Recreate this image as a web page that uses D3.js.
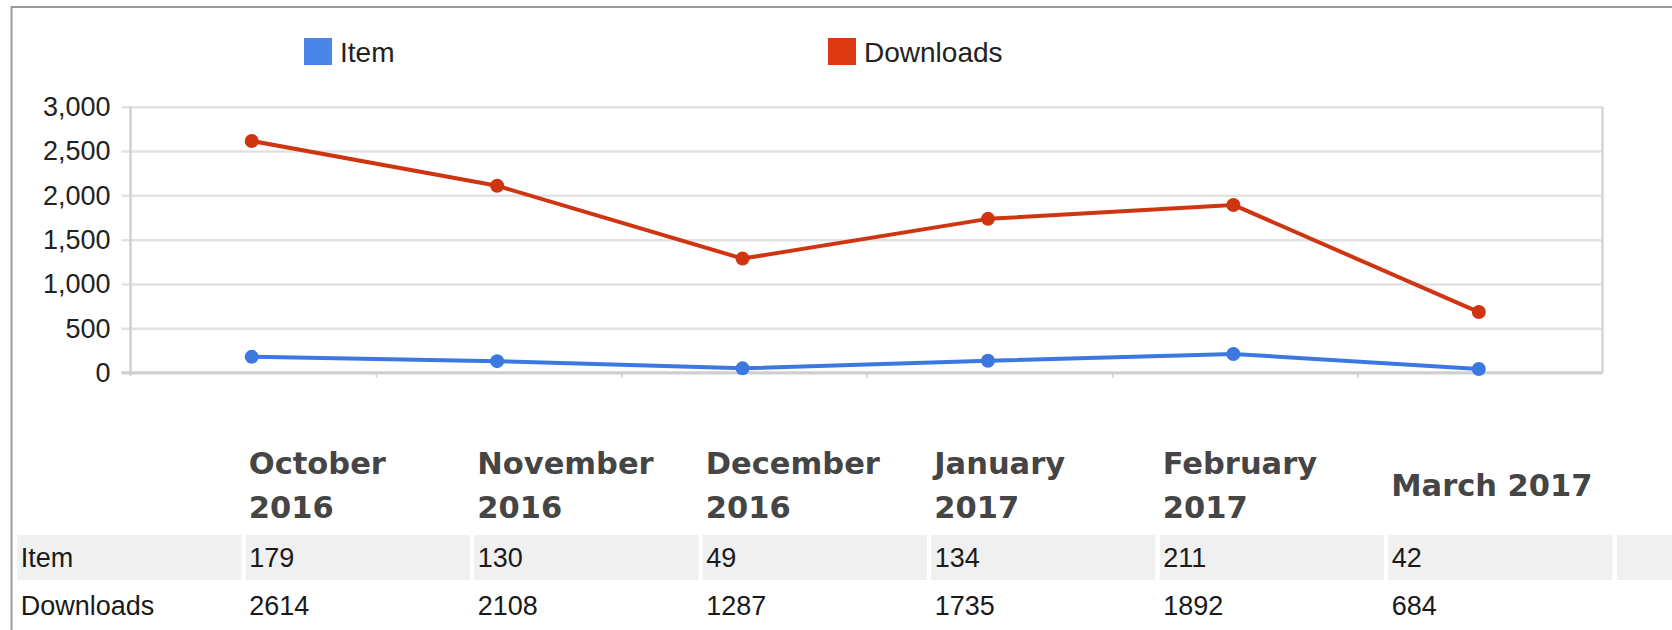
<!DOCTYPE html>
<html>
<head>
<meta charset="utf-8">
<script src="https://cdn.jsdelivr.net/npm/d3@7"></script>
<style>
  body { margin: 0; background: #fff; }
  svg { display: block; }
</style>
</head>
<body>
<div id="chart"></div>
<script>
const months = ["October 2016", "November 2016", "December 2016", "January 2017", "February 2017", "March 2017"];
const itemValues = [179, 130, 49, 134, 211, 42];
const downloadValues = [2614, 2108, 1287, 1735, 1892, 684];
const seriesNames = ["Item", "Downloads"];
const yTicks = [0, 500, 1000, 1500, 2000, 2500, 3000];

const series = [
    {name: seriesNames[0], values: itemValues, line: "#3b78e0", swatch: "#4a86e8"},
    {name: seriesNames[1], values: downloadValues, line: "#cf3510", swatch: "#dc3912"}
];

const W = 1672, H = 630;
const plot = {left: 130.5, right: 1602.5, top: 106.7, bottom: 372.7};

const svg = d3.select("#chart")
    .append("svg")
    .attr("width", W)
    .attr("height", H);

// Outer frame (only top and left edges are visible)
svg.append("rect")
    .attr("x", 11.5)
    .attr("y", 7)
    .attr("width", W + 20)
    .attr("height", H + 20)
    .attr("fill", "none")
    .attr("stroke", "#9a9a9a")
    .attr("stroke-width", 2);

// Scales
const x = d3.scalePoint()
    .domain(months)
    .range([plot.left - 1.5, plot.right - 1])
    .padding(0.5);

const y = d3.scaleLinear()
    .domain([0, 3000])
    .range([plot.bottom, plot.top]);

// Horizontal gridlines + left tick stubs
const yAxis = svg.append("g")
    .attr("transform", `translate(${plot.left},0)`)
    .call(d3.axisLeft(y)
        .tickValues(yTicks)
        .tickFormat(d3.format(","))
        .tickSize(-(plot.right - plot.left))
        .tickPadding(20));

yAxis.select(".domain").remove();
yAxis.selectAll(".tick line")
    .attr("x1", -9)
    .attr("stroke", "#e2e2e2")
    .attr("stroke-width", 2.5);
yAxis.selectAll(".tick text")
    .attr("fill", "#222")
    .style("font-family", "'Liberation Sans', Arial, sans-serif")
    .style("font-size", "27px");

// Plot frame: left/right verticals and baseline
svg.append("line")
    .attr("x1", plot.left).attr("x2", plot.left)
    .attr("y1", plot.top).attr("y2", plot.bottom + 3)
    .attr("stroke", "#d0d0d0").attr("stroke-width", 2.5);
svg.append("line")
    .attr("x1", plot.right).attr("x2", plot.right)
    .attr("y1", plot.top).attr("y2", plot.bottom)
    .attr("stroke", "#d6d6d6").attr("stroke-width", 2.5);
svg.append("line")
    .attr("x1", plot.left - 9).attr("x2", plot.right)
    .attr("y1", plot.bottom).attr("y2", plot.bottom)
    .attr("stroke", "#cfcfcf").attr("stroke-width", 3);

// Small ticks between categories
const step = x.step();
svg.append("g")
    .selectAll("line")
    .data(months.slice(0, -1))
    .enter().append("line")
    .attr("x1", d => x(d) + step / 2 + 2)
    .attr("x2", d => x(d) + step / 2 + 2)
    .attr("y1", plot.bottom)
    .attr("y2", plot.bottom + 5)
    .attr("stroke", "#cfcfcf")
    .attr("stroke-width", 1.5);

// Lines and points
const line = d3.line()
    .x((d, i) => x(months[i]))
    .y(d => y(d));

series.forEach(s => {
    svg.append("path")
        .datum(s.values)
        .attr("fill", "none")
        .attr("stroke", s.line)
        .attr("stroke-width", 4)
        .attr("stroke-linejoin", "round")
        .attr("d", line);

    svg.append("g")
        .selectAll("circle")
        .data(s.values)
        .enter().append("circle")
        .attr("cx", (d, i) => x(months[i]))
        .attr("cy", d => y(d))
        .attr("r", 7)
        .attr("fill", s.line);
});

// Legend
const legendX = d3.scaleOrdinal()
    .domain(seriesNames)
    .range([304, 828]);

const legend = svg.append("g");
series.forEach(s => {
    const g = legend.append("g")
        .attr("transform", `translate(${legendX(s.name)},38)`);
    g.append("rect")
        .attr("width", 28)
        .attr("height", 27)
        .attr("fill", s.swatch);
    g.append("text")
        .attr("x", 36)
        .attr("y", 24)
        .attr("fill", "#222")
        .style("font-family", "'Liberation Sans', Arial, sans-serif")
        .style("font-size", "28px")
        .text(s.name);
});

// Data table below the chart
const cols = ["", ...months, " "];
const colStep = 228.49, gap = 4.4;
const col = d3.scaleBand()
    .domain(cols)
    .range([17.3, 17.3 + cols.length * colStep - gap])
    .paddingInner(gap / colStep)
    .paddingOuter(0);

const table = svg.append("g");

// header
const header = table.selectAll(".hdr")
    .data(months)
    .enter().append("text")
    .attr("class", "hdr")
    .attr("x", d => col(d) + 3)
    .attr("fill", "#454545")
    .style("font-family", "'DejaVu Sans', Verdana, sans-serif")
    .style("font-weight", "bold")
    .style("font-size", "30.5px");

header.each(function (d) {
    const t = d3.select(this);
    t.text(d);
    if (this.getComputedTextLength() > col.bandwidth() - 6) {
        const words = d.split(" ");
        t.text(null);
        t.append("tspan").attr("x", col(d) + 3).attr("y", 474).text(words[0]);
        t.append("tspan").attr("x", col(d) + 3).attr("y", 518).text(words.slice(1).join(" "));
    } else {
        t.attr("y", 496);
    }
});

// rows
const rows = [
    {label: seriesNames[0], values: itemValues, top: 535, bottom: 580, base: 567, shaded: true},
    {label: seriesNames[1], values: downloadValues, top: 580, bottom: 626, base: 615, shaded: false}
];

rows.forEach(r => {
    if (r.shaded) {
        table.append("g")
            .selectAll("rect")
            .data(cols)
            .enter().append("rect")
            .attr("x", d => col(d))
            .attr("y", r.top)
            .attr("width", col.bandwidth())
            .attr("height", r.bottom - r.top)
            .attr("fill", "#f0f0f0");
    }
    const cells = [r.label, ...r.values];
    table.append("g")
        .selectAll("text")
        .data(cells)
        .enter().append("text")
        .attr("x", (d, i) => col(cols[i]) + 3.4)
        .attr("y", r.base)
        .attr("fill", "#1a1a1a")
        .style("font-family", "'Liberation Sans', Arial, sans-serif")
        .style("font-size", "27px")
        .text(d => d);
});
</script>
</body>
</html>
